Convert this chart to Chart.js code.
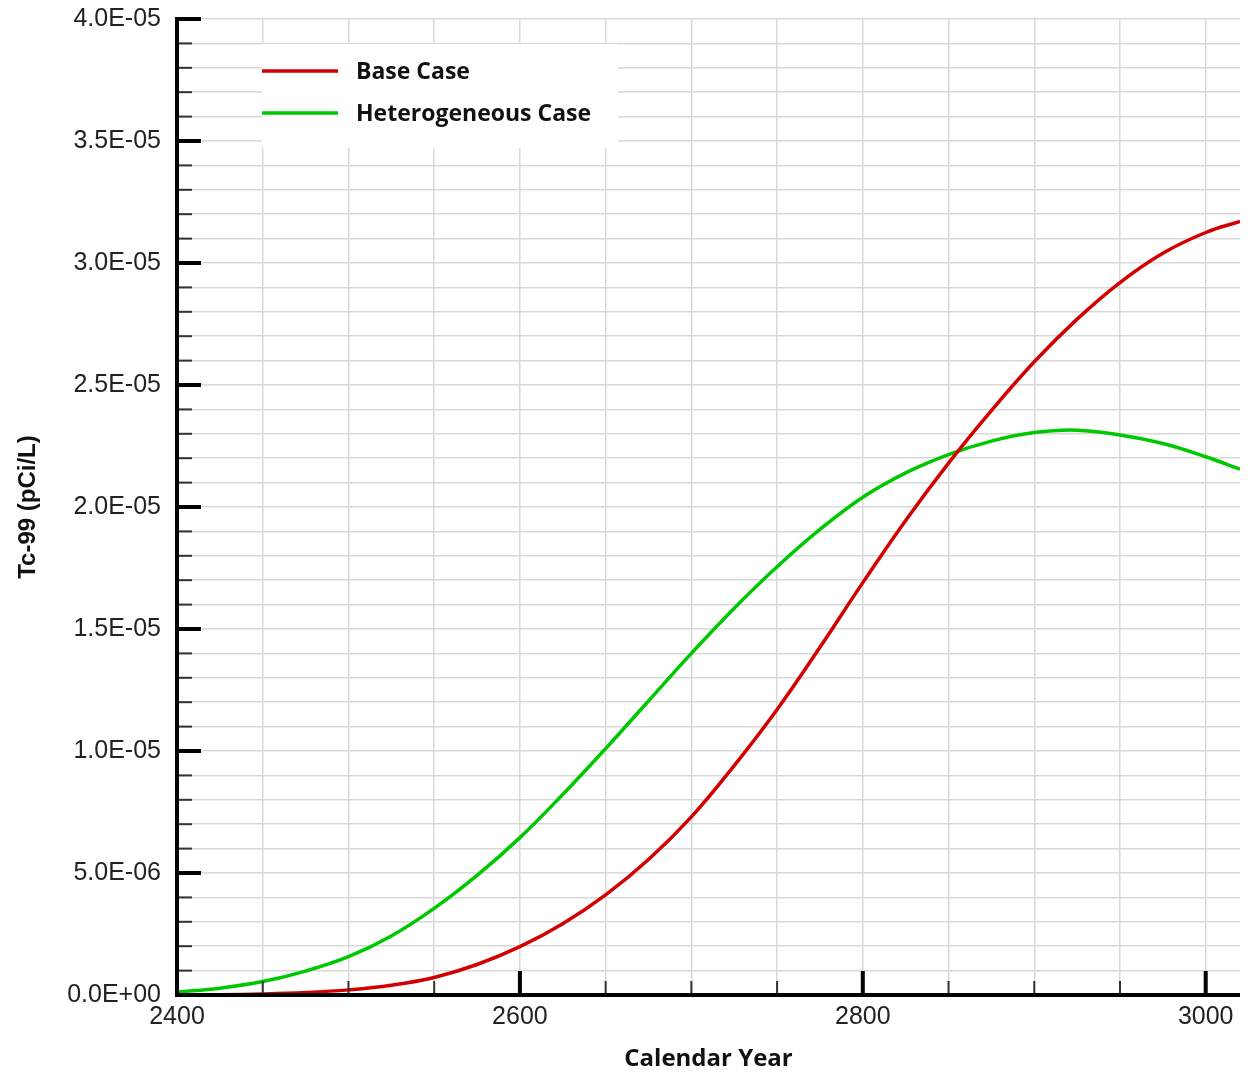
<!DOCTYPE html>
<html>
<head>
<meta charset="utf-8">
<title>Tc-99 concentration</title>
<script src="https://cdn.jsdelivr.net/npm/chart.js@4/dist/chart.umd.min.js"></script>
<style>
  html, body { margin: 0; padding: 0; background: #ffffff; }
  #wrap { width: 1248px; height: 1078px; }
</style>
</head>
<body>
<div id="wrap"><canvas id="c" width="1248" height="1078"></canvas></div>
<script>
// Calendar years sampled along both curves
const years = [2400, 2425, 2450, 2475, 2500, 2525, 2550, 2575, 2600, 2625, 2650, 2675, 2700,
               2725, 2750, 2775, 2800, 2825, 2850, 2875, 2900, 2925, 2950, 2975, 3000, 3020];

// Tc-99 concentration, pCi/L
const baseCase = [0.0e-6, 0.01e-6, 0.04e-6, 0.10e-6, 0.21e-6, 0.40e-6, 0.72e-6, 1.25e-6, 1.98e-6,
                  2.92e-6, 4.10e-6, 5.55e-6, 7.30e-6, 9.40e-6, 11.7e-6, 14.25e-6, 16.9e-6, 19.45e-6,
                  21.8e-6, 23.95e-6, 25.95e-6, 27.7e-6, 29.2e-6, 30.4e-6, 31.25e-6, 31.7e-6];
const heterogeneousCase = [0.12e-6, 0.28e-6, 0.55e-6, 0.98e-6, 1.57e-6, 2.42e-6, 3.55e-6, 4.90e-6, 6.45e-6,
                  8.22e-6, 10.1e-6, 12.05e-6, 14.0e-6, 15.85e-6, 17.55e-6, 19.08e-6, 20.4e-6, 21.4e-6,
                  22.15e-6, 22.7e-6, 23.05e-6, 23.15e-6, 22.95e-6, 22.6e-6, 22.06e-6, 21.55e-6];

const seriesNames = ['Base Case', 'Heterogeneous Case'];
const seriesColors = ['#d20000', '#00c800'];

// Axis ranges and tick spacing
const xMin = 2400, xMax = 3020, xMinorStep = 50;
const xLabelYears = [2400, 2600, 2800, 3000];
const yMin = 0, yMax = 4.0e-5, yMinorStep = 1.0e-6, yMajorEvery = 5;

const axisTitleX = 'Calendar Year';
const axisTitleY = 'Tc-99 (pCi/L)';

function toPoints(xs, ys) { return xs.map((x, i) => ({ x: x, y: ys[i] })); }

// 4.0E-05 style formatting
function sci(v) {
  if (Math.abs(v) < 1e-15) return '0.0E+00';
  let e = Math.floor(Math.log10(Math.abs(v)) + 1e-9);
  let m = v / Math.pow(10, e);
  if (Math.abs(m) >= 9.95) { m /= 10; e += 1; }
  return m.toFixed(1) + 'E' + (e < 0 ? '-' : '+') + String(Math.abs(e)).padStart(2, '0');
}

// Axis lines, inward tick marks and the boxed legend
const framePlugin = {
  id: 'frame',
  beforeDatasetsDraw(chart) {
    const ctx = chart.ctx, area = chart.chartArea;
    const bx = area.left + 85, by = area.top + 25, bw = 356, bh = 104;
    ctx.save();
    ctx.fillStyle = '#ffffff';
    ctx.fillRect(bx, by, bw, bh);
    ctx.font = 'bold 23px "Open Sans", sans-serif';
    ctx.textBaseline = 'middle';
    ctx.textAlign = 'left';
    chart.data.datasets.forEach((ds, i) => {
      const ly = by + 27 + i * 42;
      ctx.strokeStyle = ds.borderColor;
      ctx.lineWidth = 3.5;
      ctx.beginPath();
      ctx.moveTo(bx, ly);
      ctx.lineTo(bx + 76, ly);
      ctx.stroke();
      ctx.fillStyle = '#111111';
      ctx.fillText(ds.label, bx + 94, ly + 1);
    });
    ctx.restore();
  },
  afterDraw(chart) {
    const ctx = chart.ctx, area = chart.chartArea;
    const xs = chart.scales.x, ys = chart.scales.y;
    ctx.save();
    ctx.lineCap = 'butt';
    // y ticks
    const nY = Math.round((yMax - yMin) / yMinorStep);
    for (let k = 0; k <= nY; k++) {
      const py = ys.getPixelForValue(yMin + k * yMinorStep);
      const major = k % yMajorEvery === 0;
      ctx.lineWidth = major ? 4 : 2;
      ctx.strokeStyle = major ? '#000000' : '#333333';
      ctx.beginPath();
      ctx.moveTo(area.left, py);
      ctx.lineTo(area.left + (major ? 24 : 15), py);
      ctx.stroke();
    }
    // x ticks
    for (let yr = xMin; yr <= xMax; yr += xMinorStep) {
      const px = xs.getPixelForValue(yr);
      const major = xLabelYears.includes(yr);
      ctx.lineWidth = major ? 4 : 2;
      ctx.strokeStyle = major ? '#000000' : '#333333';
      ctx.beginPath();
      ctx.moveTo(px, area.bottom);
      ctx.lineTo(px, area.bottom - (major ? 24 : 14));
      ctx.stroke();
    }
    // axis lines
    ctx.strokeStyle = '#000000';
    ctx.lineWidth = 4;
    ctx.beginPath();
    ctx.moveTo(area.left, area.top - 2);
    ctx.lineTo(area.left, area.bottom);
    ctx.lineTo(area.right, area.bottom);
    ctx.stroke();
    ctx.restore();
  }
};

const tickFont = { family: '"Liberation Sans", Arial, sans-serif', size: 25 };

new Chart(document.getElementById('c'), {
  type: 'line',
  data: {
    datasets: [
      { label: seriesNames[0], data: toPoints(years, baseCase), borderColor: seriesColors[0],
        backgroundColor: seriesColors[0], borderWidth: 3.5, pointRadius: 0, fill: false,
        tension: 0.4 },
      { label: seriesNames[1], data: toPoints(years, heterogeneousCase), borderColor: seriesColors[1],
        backgroundColor: seriesColors[1], borderWidth: 3.5, pointRadius: 0, fill: false,
        tension: 0.4 }
    ]
  },
  options: {
    responsive: false,
    animation: false,
    devicePixelRatio: 1,
    layout: { padding: { left: 0, right: 8, top: 19, bottom: 0 } },
    plugins: { legend: { display: false }, tooltip: { enabled: false } },
    scales: {
      x: {
        type: 'linear',
        min: xMin, max: xMax,
        afterFit(scale) { scale.height = 83; scale.paddingLeft = 0; scale.paddingRight = 0; },
        border: { display: false },
        grid: { color: '#d9d9d9', lineWidth: 1.5, drawTicks: false },
        ticks: {
          stepSize: xMinorStep, includeBounds: false, autoSkip: false, maxRotation: 0,
          padding: 7, color: '#222222', font: tickFont,
          callback: (v) => xLabelYears.includes(Math.round(v)) ? String(Math.round(v)) : ''
        },
        title: {
          display: true, text: axisTitleX, color: '#111111',
          font: { family: '"Open Sans", sans-serif', size: 24, weight: 'bold' },
          padding: { top: 4, bottom: 4 }
        }
      },
      y: {
        type: 'linear',
        min: yMin, max: yMax,
        afterFit(scale) { scale.width = 177; scale.paddingTop = 0; scale.paddingBottom = 0; },
        border: { display: false },
        grid: { color: '#d9d9d9', lineWidth: 1.5, drawTicks: false },
        ticks: {
          stepSize: yMinorStep, autoSkip: false, padding: 16, color: '#222222', font: tickFont,
          callback: (v) => {
            const k = Math.round(v / yMinorStep);
            return k % yMajorEvery === 0 ? sci(k * yMinorStep) : '';
          }
        },
        title: {
          display: true, text: axisTitleY, color: '#111111',
          font: { family: '"Liberation Sans", Arial, sans-serif', size: 24, weight: 'bold' },
          padding: { top: 14, bottom: 14 }
        }
      }
    }
  },
  plugins: [framePlugin]
});
</script>
</body>
</html>
